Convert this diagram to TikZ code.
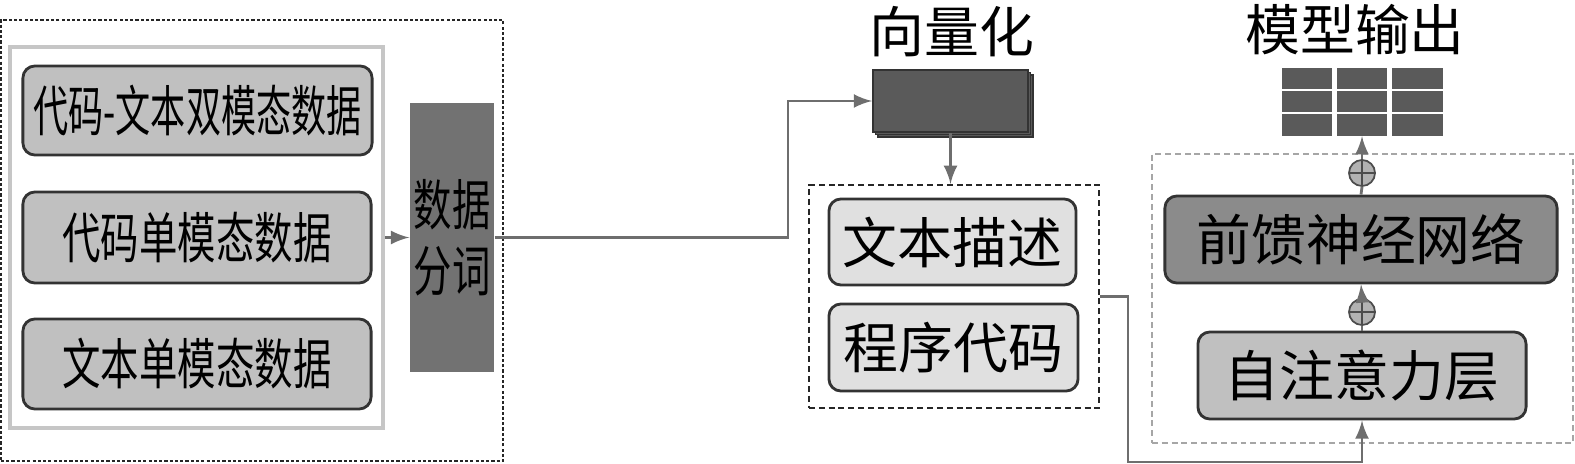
\documentclass[tikz,border=0pt]{standalone}
\usepackage{fontspec}
\usepackage{tikz}
\usetikzlibrary{arrows}
\usetikzlibrary{shadows}
\newfontfamily\cjk{Noto Sans CJK SC}
\newfontfamily\cjknarrow[FakeStretch=0.7]{Noto Sans CJK SC}
\newfontfamily\cjktight[FakeStretch=0.64]{Noto Sans CJK SC}
\definecolor{boxgray}{HTML}{C0C0C0}
\definecolor{palegray}{HTML}{E0E0E0}
\definecolor{tokgray}{HTML}{727272}
\definecolor{ffngray}{HTML}{8B8B8B}
\definecolor{darkcell}{HTML}{5A5A5A}
\definecolor{linegray}{HTML}{6E6E6E}

\begin{document}
\begin{tikzpicture}[x=0.01cm, y=-0.01cm, >=latex,
					every node/.style = {font=\cjk\fontsize{15.6pt}{18.8pt}\selectfont, inner sep=0pt}]

\tikzstyle{data_box}=[rectangle, rounded corners=0.12cm, draw=black!80, line width=0.8pt, fill=boxgray]
\tikzstyle{pale_box}=[data_box, fill=palegray]
\tikzstyle{dark_box}=[data_box, fill=ffngray]
\tikzstyle{dash_frame}=[rectangle, draw=black!85, line width=0.6pt, dash pattern=on 1.7pt off 1.1pt]
\tikzstyle{add_node}=[circle, draw=black!70, fill=gray!60, line width=0.5pt, minimum size=0.26cm,
					path picture={\draw[black!70] (path picture bounding box.north) -- (path picture bounding box.south)
					(path picture bounding box.west) -- (path picture bounding box.east);}]
\tikzstyle{link}=[draw=linegray, line width=0.8pt]

\useasboundingbox (0,0) rectangle (1575,464);

% input data
\node[dash_frame, dash pattern=on 0.9pt off 0.6pt, minimum width=5.02cm, minimum height=4.41cm] (inframe) at (252,240.5) {};
\node[rectangle, draw=gray!45, line width=1pt, minimum width=3.73cm, minimum height=3.81cm] (src) at (196.5,237.5) {};
\node[data_box, minimum width=3.49cm, minimum height=0.89cm, font=\cjktight\fontsize{15.6pt}{18.8pt}\selectfont] (bimodal) at (197.5,110.5) {代码-文本双模态数据};
\node[data_box, minimum width=3.48cm, minimum height=0.91cm, font=\cjknarrow\fontsize{15.6pt}{18.8pt}\selectfont] (codeonly) at (197,237.5) {代码单模态数据};
\node[data_box, minimum width=3.48cm, minimum height=0.90cm, font=\cjknarrow\fontsize{15.6pt}{18.8pt}\selectfont] (textonly) at (197,364) {文本单模态数据};

\node[rectangle, fill=tokgray, minimum width=0.84cm, minimum height=2.69cm, align=center,
	font=\cjknarrow\fontsize{15.6pt}{18.8pt}\selectfont] (tok) at (452,237.5) {数据\\分词};

% vectorization
\node (vectitle) at (952,32) {向量化};
\node[rectangle, draw=black!80, fill=darkcell, line width=0.5pt, minimum width=1.55cm, minimum height=0.62cm,
	double copy shadow={shadow xshift=0.025cm, shadow yshift=-0.025cm}] (vec) at (950.5,101) {};

\node[dash_frame, minimum width=2.90cm, minimum height=2.23cm] (mid) at (954,296.5) {};
\node[pale_box, minimum width=2.47cm, minimum height=0.86cm] (desc) at (952.5,242) {文本描述};
\node[pale_box, minimum width=2.49cm, minimum height=0.87cm] (code) at (953.5,347.5) {程序代码};

% encoder
\node[dash_frame, draw=gray!70, line width=0.5pt, minimum width=4.21cm, minimum height=2.89cm] (enc) at (1362.5,298.5) {};
\node[dark_box, minimum width=3.92cm, minimum height=0.87cm] (ffn) at (1361,239.5) {前馈神经网络};
\node[data_box, minimum width=3.28cm, minimum height=0.87cm] (att) at (1362,375.5) {自注意力层};
\node[add_node] (add1) at (1362,173) {};
\node[add_node] (add2) at (1362,312) {};

% output
\node (outtitle) at (1355,30) {模型输出};
\foreach \i/\x in {1/1307,2/1362,3/1417.5}
	\foreach \j/\y in {1/78.5,2/101.5,3/125}
		\node[rectangle, fill=darkcell, minimum width=0.50cm, minimum height=0.21cm] (out-\i-\j) at (\x,\y) {};

\coordinate (bend) at (788,0);
\coordinate (low) at (1128,462);

\draw[link, ->] (src.east) -- (tok.west);
\draw[link, ->] (tok.east) -- (tok.east -| bend) |- (vec.west);
\draw[link, ->] (vec.south) ++(0,-0.07) -- (vec.south |- mid.north);
\draw[link, ->] (mid.east) -| (low) -| (att.south);
\draw[link] (att.north) -- (add2.south);
\draw[link, ->] (add2.north) -- (ffn.south);
\draw[link] (ffn.north) -- (add1.south);
\draw[link, ->] (add1.north) -- (out-2-3.south);
\end{tikzpicture}
\end{document}
